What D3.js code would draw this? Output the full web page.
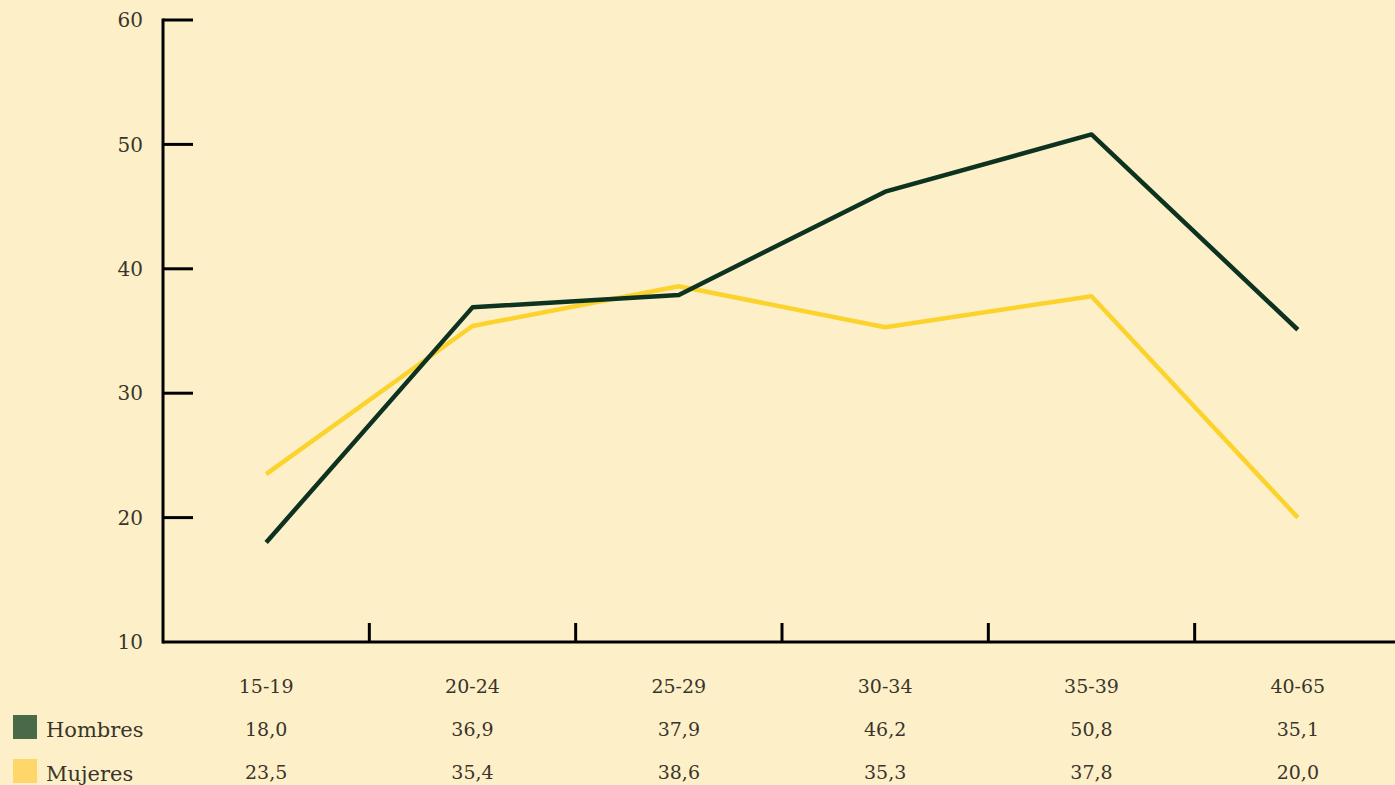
<!DOCTYPE html>
<html><head><meta charset="utf-8">
<script src="https://cdn.jsdelivr.net/npm/d3@7"></script>
<style>
html,body{margin:0;padding:0;background:#fdf0c9;}
svg{display:block;}
text{font-family:"DejaVu Serif","Liberation Serif",serif;fill:#3a342a;}
</style></head><body>
<svg id="c" width="1395" height="785"></svg>
<script>
const categories = ["15-19","20-24","25-29","30-34","35-39","40-65"];
const hombres = [18.0,36.9,37.9,46.2,50.8,35.1];
const mujeres = [23.5,35.4,38.6,35.3,37.8,20.0];
const yTicks = [10,20,30,40,50,60];
const seriesNames = ["Hombres","Mujeres"];
const fmt = v => v.toFixed(1).replace(".", ",");

const svg = d3.select("#c");
const x = d3.scaleBand().domain(categories).range([163, 1401]);
const y = d3.scaleLinear().domain([10,60]).range([642, 20]);

// Y axis
const gy = svg.append("g");
gy.append("line").attr("x1",163).attr("x2",163).attr("y1",y(60)-1.5).attr("y2",y(10)+1.5)
  .attr("stroke","#000").attr("stroke-width",3);
yTicks.forEach(t=>{
  if(t>10) gy.append("line").attr("x1",163).attr("x2",193).attr("y1",y(t)).attr("y2",y(t))
    .attr("stroke","#000").attr("stroke-width",3);
  gy.append("text").attr("x",143).attr("y",y(t)).attr("dy","0.36em").attr("text-anchor","end")
    .attr("font-size",20).text(t);
});
// X axis
svg.append("line").attr("x1",163).attr("x2",1395).attr("y1",y(10)).attr("y2",y(10))
  .attr("stroke","#000").attr("stroke-width",3);
categories.slice(1).forEach(c=>{
  const xx = x(c);
  svg.append("line").attr("x1",xx).attr("x2",xx).attr("y1",623).attr("y2",642)
    .attr("stroke","#000").attr("stroke-width",3);
});

const line = d3.line().x((d,i)=>x(categories[i])+x.bandwidth()/2).y(d=>y(d));
svg.append("path").datum(mujeres).attr("d",line).attr("fill","none")
  .attr("stroke","#fcd22c").attr("stroke-width",4.5).attr("stroke-linejoin","round");
svg.append("path").datum(hombres).attr("d",line).attr("fill","none")
  .attr("stroke","#0d3320").attr("stroke-width",4.5).attr("stroke-linejoin","round");

// Table
categories.forEach((c,i)=>{
  const cx = x(c)+x.bandwidth()/2;
  svg.append("text").attr("x",cx).attr("y",686).attr("dy","0.36em").attr("text-anchor","middle")
    .attr("font-size",19).text(c);
  svg.append("text").attr("x",cx).attr("y",729).attr("dy","0.36em").attr("text-anchor","middle")
    .attr("font-size",19).text(fmt(hombres[i]));
  svg.append("text").attr("x",cx).attr("y",772).attr("dy","0.36em").attr("text-anchor","middle")
    .attr("font-size",19).text(fmt(mujeres[i]));
});
const legColors = ["#486a48","#ffd66a"];
seriesNames.forEach((n,i)=>{
  const yy = 727 + i*44;
  svg.append("rect").attr("x",13).attr("y",yy-12).attr("width",24).attr("height",24).attr("fill",legColors[i]);
  svg.append("text").attr("x",46).attr("y",yy+2).attr("dy","0.36em").attr("font-size",21).text(n);
});
</script></body></html>
